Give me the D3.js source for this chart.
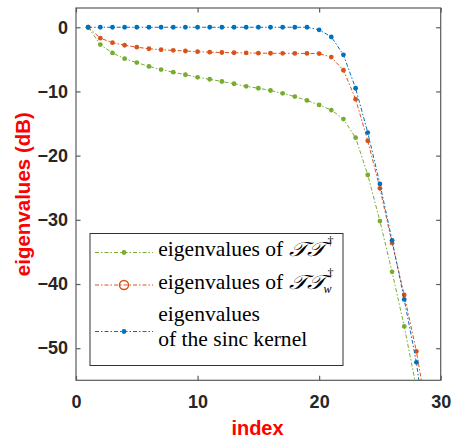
<!DOCTYPE html>
<html><head><meta charset="utf-8">
<script src="https://cdn.jsdelivr.net/npm/d3@7"></script>
<style>body{margin:0;background:#fff}</style>
</head><body>
<svg id="c" width="454" height="441"></svg>
<script>
const index = d3.range(1, 30);
const greenVals = [0,-2.7,-4.0,-4.9,-5.5,-6.1,-6.6,-7.0,-7.4,-7.8,-8.1,-8.45,-8.8,-9.2,-9.5,-9.85,-10.3,-10.8,-11.4,-12.1,-12.9,-14.3,-17.2,-23.0,-30.2,-38.1,-46.6,-56.2];
const orangeVals = [0,-1.7,-2.4,-2.8,-3.1,-3.35,-3.5,-3.6,-3.7,-3.8,-3.88,-3.93,-3.97,-4.0,-4.03,-4.05,-4.06,-4.07,-4.08,-4.1,-4.65,-6.7,-11.2,-17.7,-25.1,-33.6,-41.7,-50.5,-61.5];
const blueVals = [0,0,0,0,0,0,0,0,0,0,0,0,0,0,0,0,0,0,0,-0.4,-1.5,-4.3,-9.5,-16.4,-24.4,-33.2,-42.4,-52.2,-66];
const xTicks = [0,10,20,30];
const yTicks = [0,-10,-20,-30,-40,-50];

const svg = d3.select("#c");
const L=76, R=440.7, T=8, B=380.3;
const x = d3.scaleLinear().domain([0,30]).range([L,R]);
const y = d3.scaleLinear().domain([-55,3]).range([B,T]);

svg.append("defs").append("clipPath").attr("id","clip")
  .append("rect").attr("x",L).attr("y",T).attr("width",R-L).attr("height",B-T);

const axCol="#5a5a5a", txtCol="#262626";
svg.append("rect").attr("x",L).attr("y",T).attr("width",R-L).attr("height",B-T)
  .attr("fill","none").attr("stroke",axCol).attr("stroke-width",1.2);

const tl=4.5;
const gx = svg.append("g").attr("transform",`translate(0,${B})`)
  .call(d3.axisBottom(x).tickValues(xTicks).tickSize(-tl).tickPadding(14.5).tickFormat(d3.format("d")));
const gxt = svg.append("g").attr("transform",`translate(0,${T})`)
  .call(d3.axisTop(x).tickValues(xTicks).tickSize(-tl).tickFormat(""));
const gy = svg.append("g").attr("transform",`translate(${L},0)`)
  .call(d3.axisLeft(y).tickValues(yTicks).tickSize(-tl).tickPadding(8).tickFormat(d3.format("d")));
const gyr = svg.append("g").attr("transform",`translate(${R},0)`)
  .call(d3.axisRight(y).tickValues(yTicks).tickSize(-tl).tickFormat(""));
[gx,gxt,gy,gyr].forEach(g=>{
  g.select(".domain").remove();
  g.selectAll("line").attr("stroke",axCol).attr("stroke-width",1.2);
  g.selectAll("text").attr("fill",txtCol).style("font-family","Liberation Sans, Arial, sans-serif")
   .style("font-weight","bold").style("font-size","18px");
});

svg.append("text").attr("x",257.5).attr("y",435).attr("text-anchor","middle")
  .attr("fill","#ff0000").style("font-family","Liberation Sans, Arial, sans-serif")
  .style("font-weight","bold").style("font-size","20px").text("index");
svg.append("text").attr("transform",`translate(29.5,${(T+B)/2}) rotate(-90)`).attr("text-anchor","middle")
  .attr("fill","#ff0000").style("font-family","Liberation Sans, Arial, sans-serif")
  .style("font-weight","bold").style("font-size","20.5px").text("eigenvalues (dB)");

const series = [
  {vals:greenVals, col:"#77AC30"},
  {vals:orangeVals, col:"#D95319"},
  {vals:blueVals, col:"#0072BD"}
];
const line = d3.line().x(d=>x(d[0])).y(d=>y(d[1]));
const plot = svg.append("g").attr("clip-path","url(#clip)");
series.forEach(s=>{
  const pts = s.vals.map((v,i)=>[index[i],v]);
  plot.append("path").attr("d",line(pts)).attr("fill","none").attr("stroke",s.col)
    .attr("stroke-width",1).attr("stroke-dasharray","4,2,1.5,2");
  plot.selectAll(null).data(pts).enter().append("circle")
    .attr("cx",d=>x(d[0])).attr("cy",d=>y(d[1])).attr("r",2.4).attr("fill",s.col);
});

// legend
const lg = svg.append("g");
lg.append("rect").attr("x",90).attr("y",233.5).attr("width",253).attr("height",132)
  .attr("fill","#fff").attr("stroke","#333").attr("stroke-width",1);
const serif = "Liberation Serif, DejaVu Serif, serif";
const rows = [
  {col:"#77AC30", y:252.5, marker:"dot"},
  {col:"#D95319", y:285, marker:"ring"},
  {col:"#0072BD", y:331.5, marker:"dot"}
];
rows.forEach(r=>{
  lg.append("line").attr("x1",95).attr("x2",153).attr("y1",r.y).attr("y2",r.y)
    .attr("stroke",r.col).attr("stroke-width",1).attr("stroke-dasharray","4,2,1.5,2");
  if(r.marker==="dot") lg.append("circle").attr("cx",124).attr("cy",r.y).attr("r",2.4).attr("fill",r.col);
  else lg.append("circle").attr("cx",124).attr("cy",r.y).attr("r",4.5).attr("fill","none").attr("stroke",r.col).attr("stroke-width",1.5);
});
// fit serif size so that "eigenvalues" spans ~101.7px like the reference
const probe = lg.append("text").style("font-family",serif).style("font-size","20px").text("eigenvalues");
const fs = 20*101.7/probe.node().getComputedTextLength();
probe.remove();
function ltext(xx,yy,s){ return lg.append("text").attr("x",xx).attr("y",yy).attr("fill","#000")
  .style("font-family",serif).style("font-size",fs+"px").text(s); }
function cal(xx,yy){ return lg.append("text").attr("x",xx).attr("y",yy).attr("fill","#000")
  .style("font-family","DejaVu Serif, serif").style("font-style","italic").style("font-size","20px")
  .attr("textLength",36).attr("lengthAdjust","spacingAndGlyphs").text("\u{1D4AF}\u{1D4AF}"); }
function sup(xx,yy,s,italic){ return lg.append("text").attr("x",xx).attr("y",yy).attr("fill","#000")
  .style("font-family",serif).style("font-size","12px").style("font-style",italic?"italic":"normal").text(s); }
ltext(158.3,256,"eigenvalues of");
cal(289,256);
sup(327.5,245,"\u2020");
ltext(158.3,288.5,"eigenvalues of");
cal(289,288.5);
sup(327.5,277,"\u2020");
sup(323.5,292.5,"w",true);
ltext(158.3,321,"eigenvalues");
ltext(158.3,346,"of the sinc kernel");
</script>
</body></html>
